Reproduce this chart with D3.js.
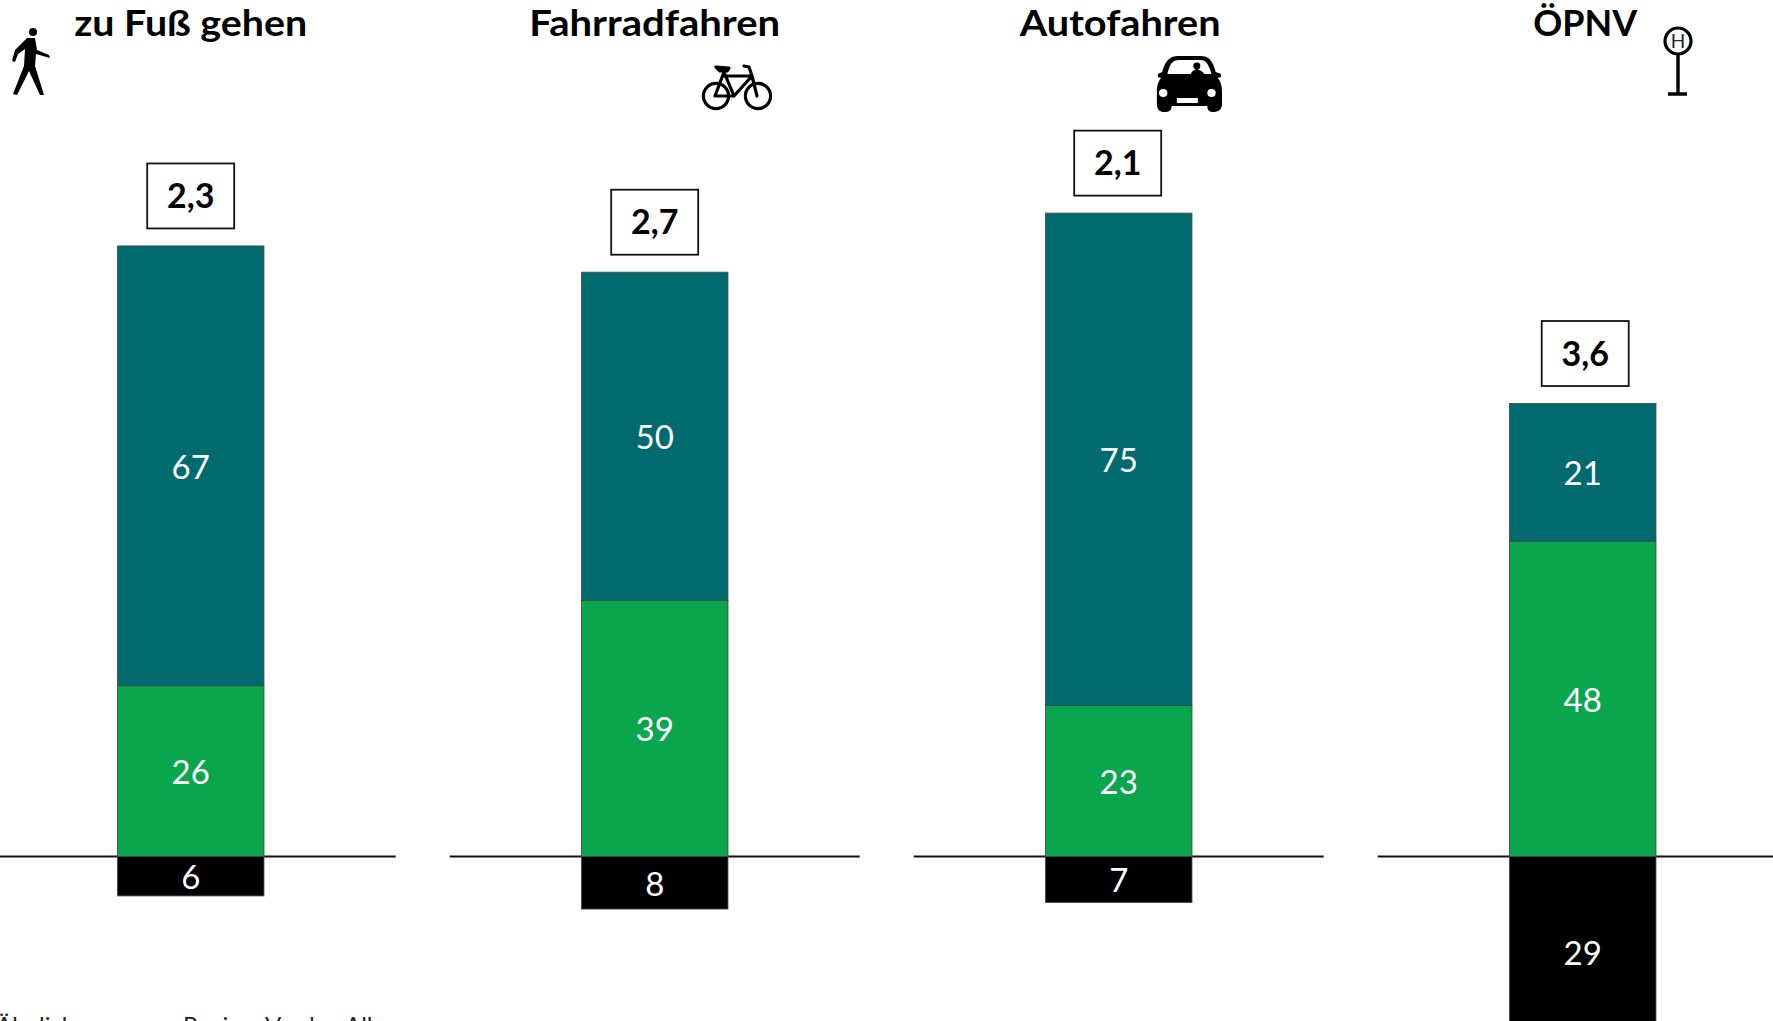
<!DOCTYPE html>
<html><head><meta charset="utf-8">
<style>html,body{margin:0;padding:0;background:#fff;overflow:hidden}svg{display:block}text{font-family:Lato,"Open Sans",sans-serif}</style>
<script src="https://cdnjs.cloudflare.com/ajax/libs/d3/7.8.5/d3.min.js"></script>
</head><body><div id="c"></div>
<script>
const categories=["zu Fuß gehen","Fahrradfahren","Autofahren","ÖPNV"];
const tealValues=[67,50,75,21];
const greenValues=[26,39,23,48];
const blackValues=[6,8,7,29];
const boxLabels=["2,3","2,7","2,1","3,6"];
const footnoteWords=["Ähnlich","Region","Vorder","All"];

const W=1773,H=1021,bw=146.5,zeroY=856.5,pxPerUnit=6.565;
const svg=d3.select("#c").append("svg").attr("width",W).attr("height",H);
const x=d3.scalePoint().domain(categories).range([190.7,1582.7]);
const y=d3.scaleLinear().domain([0,10]).range([zeroY,zeroY-pxPerUnit*10]);

// baseline segments
const half=205;
svg.selectAll("line.base").data(categories).join("line").attr("class","base")
  .attr("x1",d=>x(d)-half).attr("x2",d=>x(d)+half).attr("y1",zeroY).attr("y2",zeroY)
  .attr("stroke","#111").attr("stroke-width",2);

const rows=categories.map((c,i)=>({c,i,t:tealValues[i],g:greenValues[i],b:blackValues[i]}));
const segs=rows.flatMap(r=>[
  {c:r.c,v:r.t,y0:r.g,y1:r.g+r.t,fill:"#006b6f"},
  {c:r.c,v:r.g,y0:0,y1:r.g,fill:"#0aa64e"},
  {c:r.c,v:r.b,y0:-r.b,y1:0,fill:"#000"}]);
svg.selectAll("rect.seg").data(segs).join("rect").attr("class","seg")
  .attr("x",d=>x(d.c)-bw/2).attr("width",bw)
  .attr("y",d=>y(d.y1)).attr("height",d=>y(d.y0)-y(d.y1))
  .attr("fill",d=>d.fill).attr("stroke","#444").attr("stroke-opacity",.85).attr("stroke-width",1);
svg.selectAll("text.val").data(segs).join("text").attr("class","val")
  .attr("x",d=>x(d.c)).attr("y",d=>(y(d.y0)+y(d.y1))/2+1).attr("dy","0.36em")
  .attr("text-anchor","middle").attr("fill","#fff").attr("font-size",33).text(d=>d.v);

// value boxes
const boxShift=[0,0,-1,2.5];
const boxW=87,boxH=65,boxGap=17.5;
const box=svg.selectAll("g.box").data(rows).join("g").attr("class","box")
  .attr("transform",d=>`translate(${x(d.c)+boxShift[d.i]},${y(d.g+d.t)-boxGap-boxH/2})`);
box.append("rect").attr("x",-boxW/2).attr("y",-boxH/2).attr("width",boxW).attr("height",boxH)
  .attr("fill","#fff").attr("stroke","#111").attr("stroke-width",1.8);
box.append("text").attr("text-anchor","middle").attr("dy","0.36em").attr("font-size",34).attr("font-weight",700)
  .attr("fill","#000").text(d=>boxLabels[d.i]);

// titles
const titleShift=[0,0,1.5,2.5];
const titleWidth=[233,251,201,104];
svg.selectAll("text.title").data(rows).join("text").attr("class","title")
  .attr("x",d=>x(d.c)+titleShift[d.i]).attr("y",36).attr("text-anchor","middle")
  .attr("font-size",36).attr("font-weight",700).attr("fill","#000")
  .attr("textLength",d=>titleWidth[d.i]).attr("lengthAdjust","spacingAndGlyphs").text(d=>d.c);

// footnote, clipped by the lower page edge as in the reference
const footX=[-4,183,265,345];
svg.append("text").attr("y",1034).attr("font-size",24).attr("fill","#222")
  .selectAll("tspan").data(footnoteWords).join("tspan").attr("x",(d,i)=>footX[i]).text(d=>d);

// pedestrian icon
const p=svg.append("g").attr("fill","#000");
p.append("circle").attr("cx",33).attr("cy",32).attr("r",4);
p.append("path").attr("d","M27 38 L35 38 L37 50 L49 55 L50 58 L36 54 L35 66 L44 95 L40 95 L29 71 L17 95 L13 94 L24 66 L25 49 L18 54 L15 62 L12 61 L15 50 Z");

// bicycle icon
const b=svg.append("g").attr("fill","none").attr("stroke","#000").attr("stroke-width",3.2).attr("stroke-linecap","round").attr("stroke-linejoin","round");
b.append("circle").attr("cx",716).attr("cy",96).attr("r",12.6);
b.append("circle").attr("cx",758).attr("cy",96).attr("r",12.6);
b.append("path").attr("d","M724 72 L715 96 L734 96 L752 76 L724 76 M724 72 L734 96 M752 76 L757 96 M744 66 L749 67 L752 76");
b.append("path").attr("d","M716 67 L729 68 L727 71 L720 71 Z").attr("fill","#000");

// car icon
const k=svg.append("g").attr("transform","translate(1222,0) scale(1.05,1) translate(-1222,0)");
k.append("path").attr("fill","#000").attr("d","M1165 72 C1168 60 1173 56 1180 56 L1202 56 C1209 56 1213 60 1216 72 L1221 74 L1221 77 L1218 78 C1221 82 1222 86 1222 92 L1222 104 C1222 110 1218 112 1214 112 C1210 112 1208 110 1208 106 L1174 106 C1174 110 1172 112 1167 112 C1163 112 1160 110 1160 104 L1160 92 C1160 86 1161 82 1164 78 L1161 77 L1161 74 Z");
k.append("path").attr("fill","#fff").attr("d","M1170 74 C1172 64 1175 60 1181 60 L1201 60 C1207 60 1209 64 1212 74 Z");
k.append("path").attr("fill","#000").attr("d","M1192 75 C1193 71 1195 70 1197 70 C1195 68 1194 66 1195 64 C1196 62 1200 62 1201 64 C1202 66 1201 69 1199 70 C1202 70 1204 72 1206 75 Z");
k.append("circle").attr("cx",1166).attr("cy",93).attr("r",4).attr("fill","#fff");
k.append("circle").attr("cx",1212).attr("cy",93).attr("r",4).attr("fill","#fff");
k.append("rect").attr("x",1179).attr("y",98).attr("width",20).attr("height",5).attr("fill","#fff");

// stop icon
const s=svg.append("g");
s.append("circle").attr("cx",1678).attr("cy",41).attr("r",13).attr("fill","#fff").attr("stroke","#000").attr("stroke-width",3.2);
s.append("text").attr("x",1678).attr("y",41).attr("dy","0.36em").attr("text-anchor","middle").attr("font-size",19).attr("fill","#222").text("H");
s.append("path").attr("d","M1678 54 V94 M1668 94 H1687").attr("stroke","#000").attr("stroke-width",3.4).attr("fill","none");
</script></body></html>
